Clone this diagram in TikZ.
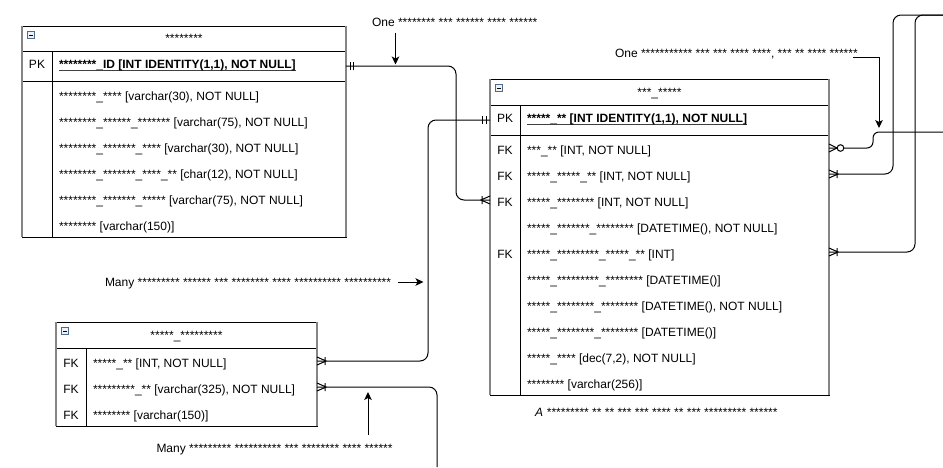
\documentclass[tikz,border=0pt]{standalone}
\usepackage{fontspec}
\setmainfont{Liberation Sans}
\usetikzlibrary{arrows.meta,calc}
\definecolor{sidegray}{HTML}{858585}
\definecolor{iconbd}{HTML}{4F6A8A}
\definecolor{iconbg}{HTML}{EEF1F5}
\newcommand\pkul[1]{\setbox0\hbox{#1}\rlap{\color{black!75}\rule[-2pt]{\wd0}{0.8pt}}\box0}
\tikzset{
  pics/mandone/.style={code={\draw[line width=1pt] (4,-4) -- (4,4) (7.5,-4) -- (7.5,4);}},
  pics/onemany/.style={code={\draw[line width=1pt] (0,-4) -- (9,0) -- (0,4) (8,-4) -- (8,4);}},
  pics/zeromany/.style={code={\draw[line width=1pt] (0,-4) -- (8,0) -- (0,4); \draw[line width=1pt, fill=white] (11.5,0) circle[radius=3.3];}},
}
\begin{document}
\begin{tikzpicture}[x=1pt,y=-1pt,
  every node/.style={inner sep=0pt, outer sep=0pt, font=\fontsize{12}{14}\selectfont},
  tbl/.style={draw=black, line width=1pt, anchor=north west},
  rowtxt/.style={anchor=west, text height=14pt, text depth=2pt},
  keytxt/.style={anchor=center, text height=14pt, text depth=2pt},
  pktxt/.style={anchor=west, text height=7pt, text depth=2pt, font=\fontsize{12}{14}\selectfont\bfseries},
  pkkey/.style={anchor=center, text height=7pt, text depth=2pt},
  hdr/.style={anchor=center, text height=10pt, text depth=2pt},
  lbl/.style={anchor=base west},
  conn/.style={line width=1pt, rounded corners=8pt},
  arr/.style={line width=1pt, -{Stealth[length=8pt,width=7.5pt,inset=2pt]}},
  side/.style={draw=sidegray, line width=1.8pt},
  sep/.style={draw=black, line width=1pt},
  icon/.style={draw=iconbd, fill=iconbg, line width=0.7pt},
]
\useasboundingbox (0,0) rectangle (943,467);

% ---------------- table 1
\node[tbl, minimum width=324pt, minimum height=211pt] (t1) at (22,26) {};
\draw[sep] (22,51) -- (346,51);
\draw[sep] (22,81) -- (346,81);
\draw[sep] (52,51) -- (52,237);
\draw[side] (t1.north west) -- (t1.south west);
\draw[side] (t1.north east) -- (t1.south east);
\draw[icon] (27.5,31.5) rectangle ++(7,7);
\draw[line width=0.8pt] (29,35) -- (33,35);
\node[hdr] (t1h) at (184,38.5) {********};
\node[pkkey] (t1k0) at (37,66) {PK};
\node[pktxt] (t1pk) at (59,66) {\pkul{********\_ID [INT IDENTITY(1,1), NOT NULL]}};
\node[rowtxt] (t1r1) at (59,94) {********\_**** [varchar(30), NOT NULL]};
\node[rowtxt] (t1r2) at (59,120) {********\_******\_******* [varchar(75), NOT NULL]};
\node[rowtxt] (t1r3) at (59,146) {********\_*******\_**** [varchar(30), NOT NULL]};
\node[rowtxt] (t1r4) at (59,172) {********\_*******\_****\_** [char(12), NOT NULL]};
\node[rowtxt] (t1r5) at (59,198) {********\_*******\_***** [varchar(75), NOT NULL]};
\node[rowtxt] (t1r6) at (59,224) {******** [varchar(150)]};

% ---------------- table 2
\node[tbl, minimum width=339pt, minimum height=316pt] (t2) at (490,79) {};
\draw[sep] (490,105) -- (829,105);
\draw[sep] (490,135) -- (829,135);
\draw[sep] (520,105) -- (520,395);
\draw[side] (t2.north west) -- (t2.south west);
\draw[side] (t2.north east) -- (t2.south east);
\draw[icon] (495.5,84.5) rectangle ++(7,7);
\draw[line width=0.8pt] (497,88) -- (501,88);
\node[hdr] (t2h) at (659.5,92) {***\_*****};
\node[pkkey] (t2k0) at (505,120) {PK};
\node[pktxt] (t2pk) at (527,120) {\pkul{*****\_** [INT IDENTITY(1,1), NOT NULL]}};
\node[keytxt] (t2k1) at (505,148) {FK};
\node[rowtxt] (t2r1) at (527,148) {***\_** [INT, NOT NULL]};
\node[keytxt] (t2k2) at (505,174) {FK};
\node[rowtxt] (t2r2) at (527,174) {*****\_*****\_** [INT, NOT NULL]};
\node[keytxt] (t2k3) at (505,200) {FK};
\node[rowtxt] (t2r3) at (527,200) {*****\_******** [INT, NOT NULL]};
\node[rowtxt] (t2r4) at (527,226) {*****\_*******\_******** [DATETIME(), NOT NULL]};
\node[keytxt] (t2k5) at (505,252) {FK};
\node[rowtxt] (t2r5) at (527,252) {*****\_*********\_*****\_** [INT]};
\node[rowtxt] (t2r6) at (527,278) {*****\_*********\_******** [DATETIME()]};
\node[rowtxt] (t2r7) at (527,304) {*****\_********\_******** [DATETIME(), NOT NULL]};
\node[rowtxt] (t2r8) at (527,330) {*****\_********\_******** [DATETIME()]};
\node[rowtxt] (t2r9) at (527,356) {*****\_**** [dec(7,2), NOT NULL]};
\node[rowtxt] (t2r10) at (527,382) {******** [varchar(256)]};

% ---------------- table 3
\node[tbl, minimum width=261pt, minimum height=104pt] (t3) at (56,322) {};
\draw[sep] (56,348) -- (317,348);
\draw[sep] (86,348) -- (86,426);
\draw[side] (t3.north west) -- (t3.south west);
\draw[side] (t3.north east) -- (t3.south east);
\draw[icon] (61.5,327.5) rectangle ++(7,7);
\draw[line width=0.8pt] (63,331) -- (67,331);
\node[hdr] (t3h) at (186.5,335) {*****\_*********};
\node[keytxt] (t3k1) at (71,361) {FK};
\node[rowtxt] (t3r1) at (93,361) {*****\_** [INT, NOT NULL]};
\node[keytxt] (t3k2) at (71,387) {FK};
\node[rowtxt] (t3r2) at (93,387) {*********\_** [varchar(325), NOT NULL]};
\node[keytxt] (t3k3) at (71,413) {FK};
\node[rowtxt] (t3r3) at (93,413) {******** [varchar(150)]};

% ---------------- labels
\node[lbl] (l1) at (372,26) {One ******** *** ****** **** ******};
\node[lbl] (l2) at (615,57) {One *********** *** *** **** ****, *** ** **** ******};
\node[lbl] (l3) at (105,286) {Many ********* ****** *** ******** **** ********** **********};
\node[lbl] (l4) at (156.5,452) {Many ********* ********** *** ******** **** ******};
\node[lbl, font=\fontsize{12}{14}\selectfont\itshape] (cap) at (535,416.5) {A ********* ** ** *** *** **** ** *** ********* ******};

% ---------------- free ends
\coordinate (c3end) at (437,467);
\coordinate (c4end) at (943,132);
\coordinate (c5top) at (893,15);
\coordinate (c5end) at (943,15);
\coordinate (c6top) at (915,15);
\coordinate (c6end) at (943,15);
\coordinate (a1s) at (395.5,32.5);
\coordinate (a1e) at (395.5,64.5);
\coordinate (a2s) at (853,57);
\coordinate (a2c) at (879,57);
\coordinate (a2e) at (879,128);
\coordinate (a3s) at (398,282);
\coordinate (a3e) at (423.5,282);
\coordinate (a4s) at (368,435);
\coordinate (a4e) at (368,392);

% ---------------- connectors
\draw[conn] (t1.east |- t1pk) -- ++(110,0) |- (t2.west |- t2r3);
\pic at (t1.east |- t1pk) {mandone};
\pic[rotate=180] at (t2.west |- t2r3) {onemany};

\draw[conn] (t2.west |- t2pk) -- ++(-62,0) |- (t3.east |- t3r1);
\pic[rotate=180] at (t2.west |- t2pk) {mandone};
\pic at (t3.east |- t3r1) {onemany};

\draw[conn] (t3.east |- t3r2) -| (c3end);
\pic at (t3.east |- t3r2) {onemany};

\draw[conn, rounded corners=6pt] (t2.east |- t2r1) -- ++(44,0) -- ++(0,-16) -- (c4end);
\pic at (t2.east |- t2r1) {zeromany};

\draw[conn] (t2.east |- t2r2) -| (c5top) -- (c5end);
\pic at (t2.east |- t2r2) {onemany};

\draw[conn] (t2.east |- t2r5) -| (c6top) -- (c6end);
\pic at (t2.east |- t2r5) {onemany};

% ---------------- label arrows
\draw[arr] (a1s) -- (a1e);
\draw[arr] (a2s) -- (a2c) -- (a2e);
\draw[arr] (a3s) -- (a3e);
\draw[arr] (a4s) -- (a4e);
\end{tikzpicture}
\end{document}
